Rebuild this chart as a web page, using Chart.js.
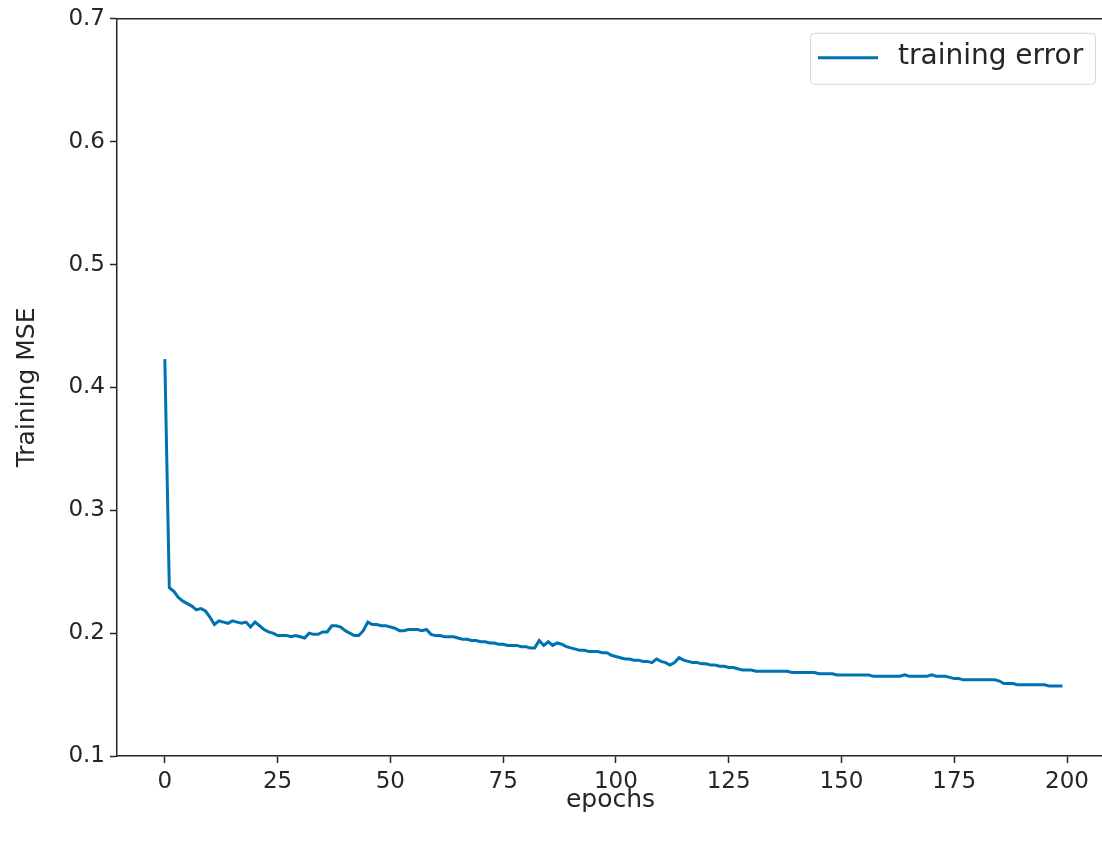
<!DOCTYPE html>
<html>
<head>
<meta charset="utf-8">
<script src="https://cdn.jsdelivr.net/npm/chart.js@4.4.1/dist/chart.umd.min.js"></script>
<style>
  html, body { margin: 0; padding: 0; background: #fff; overflow: hidden; }
  canvas { display: block; }
</style>
</head>
<body>
<canvas id="errChart" width="1106" height="844"></canvas>
<script>
// training MSE per epoch
const trainingError = [
  0.423, 0.237, 0.234, 0.229, 0.226, 0.224, 0.222, 0.219, 0.220, 0.218,
  0.213, 0.207, 0.210, 0.209, 0.208, 0.210, 0.209, 0.208, 0.209, 0.205,
  0.209, 0.206, 0.203, 0.201, 0.200, 0.198, 0.198, 0.198, 0.197, 0.198,
  0.197, 0.196, 0.200, 0.199, 0.199, 0.201, 0.201, 0.206, 0.206, 0.205,
  0.202, 0.200, 0.198, 0.198, 0.202, 0.209, 0.207, 0.207, 0.206, 0.206,
  0.205, 0.204, 0.202, 0.202, 0.203, 0.203, 0.203, 0.202, 0.203, 0.199,
  0.198, 0.198, 0.197, 0.197, 0.197, 0.196, 0.195, 0.195, 0.194, 0.194,
  0.193, 0.193, 0.192, 0.192, 0.191, 0.191, 0.190, 0.190, 0.190, 0.189,
  0.189, 0.188, 0.188, 0.194, 0.190, 0.193, 0.190, 0.192, 0.191, 0.189,
  0.188, 0.187, 0.186, 0.186, 0.185, 0.185, 0.185, 0.184, 0.184, 0.182,
  0.181, 0.180, 0.179, 0.179, 0.178, 0.178, 0.177, 0.177, 0.176, 0.179,
  0.177, 0.176, 0.174, 0.176, 0.180, 0.178, 0.177, 0.176, 0.176, 0.175,
  0.175, 0.174, 0.174, 0.173, 0.173, 0.172, 0.172, 0.171, 0.170, 0.170,
  0.170, 0.169, 0.169, 0.169, 0.169, 0.169, 0.169, 0.169, 0.169, 0.168,
  0.168, 0.168, 0.168, 0.168, 0.168, 0.167, 0.167, 0.167, 0.167, 0.166,
  0.166, 0.166, 0.166, 0.166, 0.166, 0.166, 0.166, 0.165, 0.165, 0.165,
  0.165, 0.165, 0.165, 0.165, 0.166, 0.165, 0.165, 0.165, 0.165, 0.165,
  0.166, 0.165, 0.165, 0.165, 0.164, 0.163, 0.163, 0.162, 0.162, 0.162,
  0.162, 0.162, 0.162, 0.162, 0.162, 0.161, 0.159, 0.159, 0.159, 0.158,
  0.158, 0.158, 0.158, 0.158, 0.158, 0.158, 0.157, 0.157, 0.157, 0.157
];
const epochs = trainingError.map((v, i) => i);
const xTicks = [0, 25, 50, 75, 100, 125, 150, 175, 200];
const yTicks = [0.1, 0.2, 0.3, 0.4, 0.5, 0.6, 0.7];

const lineColor = "#0072b2";
const inkColor = "#262626";

// top spine (matplotlib style box, right side falls off the picture)
const topSpine = {
    id: "topSpine",
    afterDraw(chart) {
        const a = chart.chartArea;
        const ctx = chart.ctx;
        ctx.save();
        ctx.strokeStyle = inkColor;
        ctx.lineWidth = 1.5;
        ctx.beginPath();
        ctx.moveTo(a.left, a.top);
        ctx.lineTo(a.right, a.top);
        ctx.stroke();
        ctx.restore();
    }
};

// legend box in the upper right corner
const boxLegend = {
    id: "boxLegend",
    afterDraw(chart) {
        const a = chart.chartArea;
        const ctx = chart.ctx;
        const w = 285, h = 51;
        const x = a.right - 9 - w, y = a.top + 14;
        ctx.save();
        ctx.fillStyle = "rgba(255,255,255,0.8)";
        ctx.strokeStyle = "#d6d6d6";
        ctx.lineWidth = 1;
        ctx.beginPath();
        ctx.roundRect(x + 0.5, y + 0.5, w, h, 4);
        ctx.fill();
        ctx.stroke();
        ctx.strokeStyle = lineColor;
        ctx.lineWidth = 3;
        ctx.beginPath();
        ctx.moveTo(x + 8, y + 25);
        ctx.lineTo(x + 68, y + 25);
        ctx.stroke();
        ctx.fillStyle = inkColor;
        ctx.font = "28px 'DejaVu Sans'";
        ctx.textBaseline = "middle";
        ctx.fillText(chart.data.datasets[0].label, x + 88, y + 24);
        ctx.restore();
    }
};

const ctx = document.getElementById("errChart").getContext("2d");
new Chart(ctx, {
    type: "line",
    data: {
        labels: epochs,
        datasets: [{
            label: "training error",
            data: trainingError.map((v, i) => ({ x: epochs[i], y: v })),
            borderColor: lineColor,
            borderWidth: 3,
            pointRadius: 0,
            tension: 0,
            fill: false
        }]
    },
    options: {
        responsive: false,
        animation: false,
        devicePixelRatio: 1,
        layout: { padding: { left: 0, top: 18, right: 2, bottom: 0 } },
        plugins: {
            legend: { display: false },
            tooltip: { enabled: false }
        },
        scales: {
            x: {
                type: "linear",
                min: -10.6,
                max: 208.2,
                afterBuildTicks: s => { s.ticks = xTicks.map(v => ({ value: v })); },
                afterFit: s => { s.height = 88; },
                ticks: {
                    color: inkColor,
                    font: { family: "DejaVu Sans", size: 23 },
                    padding: 5,
                    maxRotation: 0,
                    autoSkip: false
                },
                grid: {
                    drawOnChartArea: false,
                    tickLength: 7,
                    tickWidth: 1.5,
                    tickColor: inkColor
                },
                border: { color: inkColor, width: 1.5 },
                title: {
                    display: true,
                    text: "epochs",
                    color: inkColor,
                    font: { family: "DejaVu Sans", size: 25 },
                    padding: { top: 0, bottom: 29 }
                }
            },
            y: {
                min: 0.1,
                max: 0.7,
                afterBuildTicks: s => { s.ticks = yTicks.map(v => ({ value: v })); },
                afterFit: s => { s.width = 117; },
                ticks: {
                    color: inkColor,
                    font: { family: "DejaVu Sans", size: 23 },
                    padding: 5,
                    callback: v => v.toFixed(1)
                },
                grid: {
                    drawOnChartArea: false,
                    tickLength: 7,
                    tickWidth: 1.5,
                    tickColor: inkColor
                },
                border: { color: inkColor, width: 1.5 },
                title: {
                    display: true,
                    text: "Training MSE",
                    color: inkColor,
                    font: { family: "DejaVu Sans", size: 25 },
                    padding: { top: 12, bottom: 0 }
                }
            }
        }
    },
    plugins: [topSpine, boxLegend]
});
</script>
</body>
</html>
